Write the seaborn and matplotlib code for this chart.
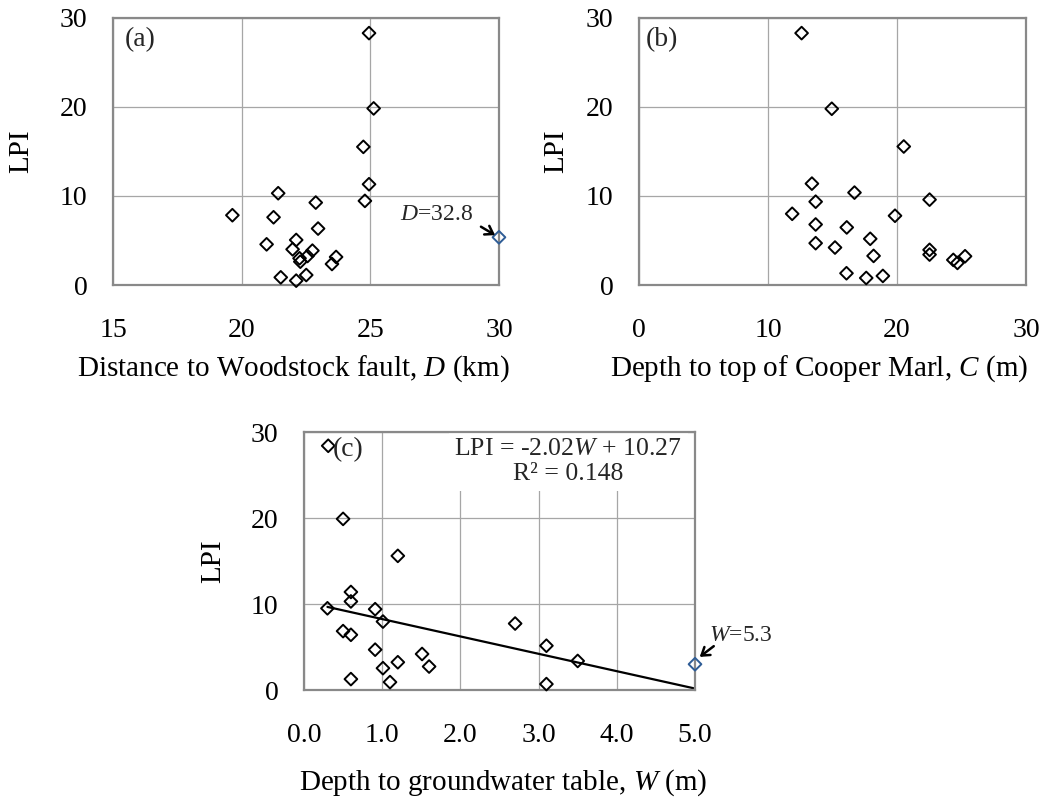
import matplotlib
matplotlib.use("Agg")
import matplotlib.pyplot as plt
import seaborn as sns
import numpy as np
from matplotlib.ticker import MultipleLocator

# ---------------- data ----------------
# Panel (a): distance to Woodstock fault D (km) vs LPI
D_km = [24.95, 25.13, 24.73, 24.95, 24.79, 21.42, 22.88, 19.64, 21.24, 22.97, 22.12,
        20.97, 21.98, 22.75, 22.56, 22.25, 22.28, 23.67, 23.51, 21.52, 22.51, 22.12]
LPI_a = [28.3, 19.84, 15.52, 11.32, 9.45, 10.31, 9.26, 7.84, 7.61, 6.34, 5.06,
         4.57, 4.01, 3.86, 3.26, 3.0, 2.62, 3.15, 2.36, 0.86, 1.12, 0.49]
D_outlier = 32.8
LPI_a_outlier = 5.36

# Panel (b): depth to top of Cooper Marl C (m) vs LPI
C_m = [12.6, 14.94, 20.52, 13.4, 16.7, 22.52, 13.69, 11.87, 19.84, 13.69, 16.1, 17.92,
       13.69, 15.19, 22.52, 22.52, 18.18, 25.27, 24.36, 24.68, 16.08, 17.61, 18.9]
LPI_b = [28.3, 19.8, 15.56, 11.39, 10.38, 9.59, 9.36, 8.0, 7.78, 6.8, 6.47, 5.19,
         4.7, 4.21, 3.95, 3.42, 3.27, 3.23, 2.82, 2.48, 1.32, 0.79, 1.02]

# Panel (c): depth to groundwater table W (m) vs LPI
W_m = [0.31, 0.50, 1.20, 0.60, 0.60, 0.30, 0.91, 1.01, 2.70, 0.50, 0.60,
       3.10, 0.91, 1.51, 3.50, 1.20, 1.60, 1.01, 0.60, 1.10, 3.10]
LPI_c = [28.4, 19.9, 15.6, 11.4, 10.3, 9.5, 9.4, 7.96, 7.73, 6.85, 6.42,
         5.15, 4.69, 4.19, 3.38, 3.23, 2.73, 2.54, 1.27, 0.92, 0.69]
W_outlier = 5.3
LPI_c_outlier = 3.0

# Linear trend for panel (c)
slope = -2.02
intercept = 10.27
W_fit = [0.3, 5.0]

# ---------------- style ----------------
sns.set_theme(style="white")
plt.rcParams["font.family"] = ["Liberation Serif", "DejaVu Serif"]
plt.rcParams["mathtext.fontset"] = "custom"
plt.rcParams["mathtext.rm"] = "Liberation Serif"
plt.rcParams["mathtext.it"] = "Liberation Serif:italic"

GRID = "#a6a6a6"
SPINE = "#898989"
BLUE = "#2f5d96"
TICK_FS = 20
LABEL_FS = 21

fig = plt.figure(figsize=(10.54, 7.99), dpi=100)
ax_a = fig.add_axes([0.1072, 0.6433, 0.3662, 0.3342])
ax_b = fig.add_axes([0.6063, 0.6433, 0.3672, 0.3342])
ax_c = fig.add_axes([0.2884, 0.1364, 0.3710, 0.3229])


def style_axes(ax, xlim, xmajor, xminor, xlabel, xlab_xy, ylab_xy, xfmt=None):
    ax.set_xlim(*xlim)
    ax.set_ylim(0, 30)
    ax.xaxis.set_major_locator(MultipleLocator(xmajor))
    if xminor:
        ax.xaxis.set_minor_locator(MultipleLocator(xminor))
    ax.yaxis.set_major_locator(MultipleLocator(10))
    ax.yaxis.set_minor_locator(MultipleLocator(5))
    if xfmt:
        ax.xaxis.set_major_formatter(xfmt)
    ax.grid(True, which="major", color=GRID, linewidth=0.9)
    ax.set_axisbelow(True)
    for s in ax.spines.values():
        s.set_color(SPINE)
        s.set_linewidth(1.6)
        s.set_visible(True)
    ax.tick_params(axis="both", which="both", direction="in", color=SPINE,
                   width=1.0, labelsize=TICK_FS, labelcolor="black")
    ax.tick_params(axis="both", which="major", length=5)
    ax.tick_params(axis="both", which="minor", length=5)
    ax.tick_params(axis="y", which="both", pad=18.5)
    ax.tick_params(axis="x", which="both", pad=24)
    ax.set_xlabel(xlabel, fontsize=LABEL_FS, color="black")
    ax.set_ylabel("LPI", fontsize=LABEL_FS, color="black")
    ax.xaxis.set_label_coords(*xlab_xy)
    ax.yaxis.set_label_coords(*ylab_xy)


scat_kw = dict(marker="D", s=42, facecolor="none", edgecolor="black",
               linewidth=1.4, clip_on=False, legend=False, zorder=3)
arrow_kw = dict(arrowstyle="->,head_length=0.45,head_width=0.3",
                lw=1.8, color="black", shrinkA=0, shrinkB=0)

# ---- panel (a)
sns.scatterplot(x=D_km, y=LPI_a, ax=ax_a, **scat_kw)
a_xmax = 30
sns.scatterplot(x=[min(D_outlier, a_xmax)], y=[LPI_a_outlier], ax=ax_a,
                **{**scat_kw, "edgecolor": BLUE})
style_axes(ax_a, (15, a_xmax), 5, None,
           r"Distance to Woodstock fault, $D$ (km)", (0.468, -0.255), (-0.205, 0.5))
ax_a.text(0.031, 0.965, "(a)", transform=ax_a.transAxes, ha="left", va="top", fontsize=20)
ax_a.text(29.0, 7.9, r"$D$=32.8", ha="right", va="center", fontsize=17)
ax_a.annotate("", xy=(29.85, 5.6), xytext=(29.3, 6.55), annotation_clip=False,
              arrowprops=arrow_kw)

# ---- panel (b)
sns.scatterplot(x=C_m, y=LPI_b, ax=ax_b, **scat_kw)
style_axes(ax_b, (0, 30), 10, None,
           r"Depth to top of Cooper Marl, $C$ (m)", (0.465, -0.255), (-0.18, 0.5))
ax_b.text(0.018, 0.965, "(b)", transform=ax_b.transAxes, ha="left", va="top", fontsize=20)

# ---- panel (c)
W_fit_arr = np.array(W_fit)
sns.lineplot(x=W_fit_arr, y=slope * W_fit_arr + intercept, ax=ax_c,
             color="black", linewidth=1.6, zorder=2)
sns.scatterplot(x=W_m, y=LPI_c, ax=ax_c, **scat_kw)
sns.scatterplot(x=[min(W_outlier, 5.0)], y=[LPI_c_outlier], ax=ax_c,
                **{**scat_kw, "edgecolor": BLUE})
style_axes(ax_c, (0, 5), 1, 0.5,
           r"Depth to groundwater table, $W$ (m)", (0.51, -0.298), (-0.198, 0.5),
           xfmt=matplotlib.ticker.FormatStrFormatter("%.1f"))
ax_c.text(0.074, 0.98, "(c)", transform=ax_c.transAxes, ha="left", va="top",
          fontsize=20, zorder=5)
ax_c.text(0.676, 0.975, "LPI = -2.02$W$ + 10.27\nR\u00b2 = 0.148",
          transform=ax_c.transAxes, ha="center", va="top", multialignment="center",
          fontsize=18.5, linespacing=1.15, zorder=1,
          bbox=dict(facecolor="white", edgecolor="none", pad=4))
ax_c.text(5.18, 6.3, r"$W$=5.3", ha="left", va="center", fontsize=17, clip_on=False)
ax_c.annotate("", xy=(5.06, 3.85), xytext=(5.24, 5.1), annotation_clip=False,
              arrowprops=arrow_kw)

fig.savefig("out.png", dpi=100, facecolor="white")
